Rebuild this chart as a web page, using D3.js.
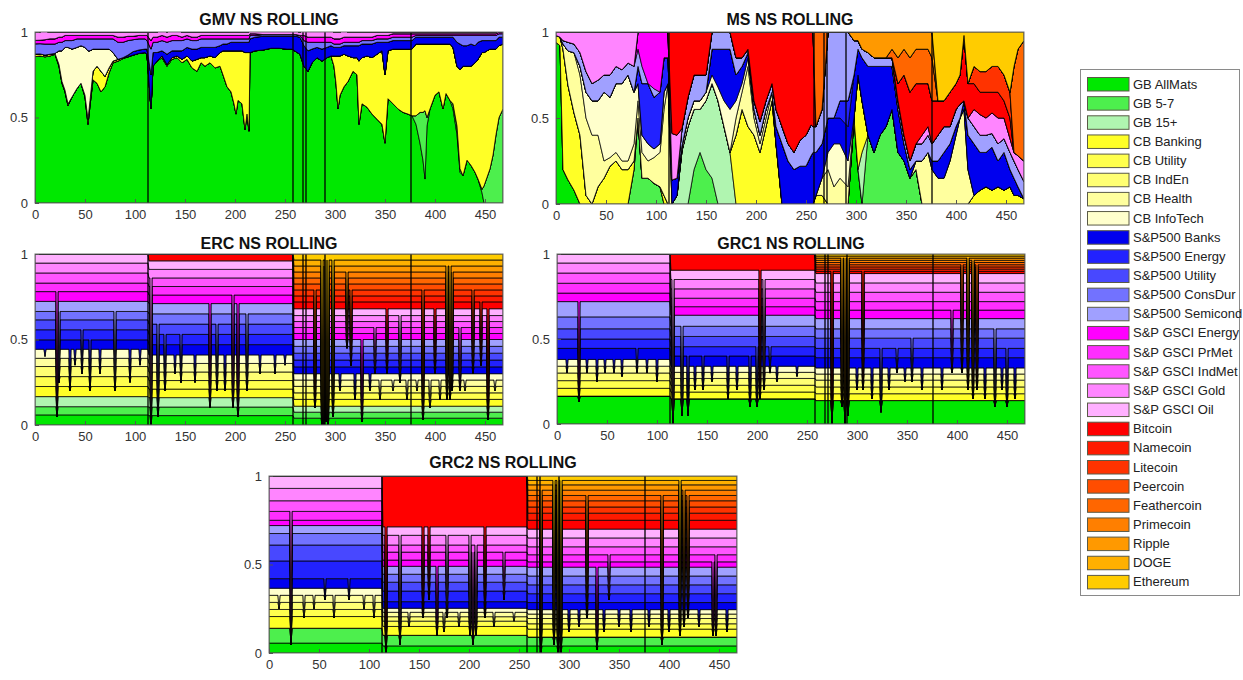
<!DOCTYPE html>
<html>
<head>
<meta charset="utf-8">
<script src="https://cdn.jsdelivr.net/npm/d3@7"></script>
<style>
  body { margin: 0; background: #fff; }
  text { font-family: "Liberation Sans", Arial, sans-serif; }
</style>
</head>
<body>
<svg id="chart" width="1243" height="680"></svg>
<script>
// series, in stacking / legend order
const names = ['GB AllMats', 'GB 5-7', 'GB 15+', 'CB Banking', 'CB Utility', 'CB IndEn', 'CB Health', 'CB InfoTech',
  'S&P500 Banks', 'S&P500 Energy', 'S&P500 Utility', 'S&P500 ConsDur', 'S&P500 Semicond',
  'S&P GSCI Energy', 'S&P GSCI PrMet', 'S&P GSCI IndMet', 'S&P GSCI Gold', 'S&P GSCI Oil',
  'Bitcoin', 'Namecoin', 'Litecoin', 'Peercoin', 'Feathercoin', 'Primecoin', 'Ripple', 'DOGE', 'Ethereum'];
const colors = ['#00e800', '#4def4d', '#b0f5b0', '#ffff26', '#ffff4d', '#ffff73', '#ffff9e', '#ffffcc',
  '#0000ee', '#2222ff', '#4848ff', '#7272ff', '#a0a0ff',
  '#ff00ff', '#ff2eff', '#ff55ff', '#ff85ff', '#ffb0ff',
  '#ff0000', '#ff1a00', '#ff3300', '#ff4d00', '#ff6600', '#ff7f00', '#ff9900', '#ffb000', '#ffcc00'];

const tMax = 468;
const xTicks = [0, 50, 100, 150, 200, 250, 300, 350, 400, 450];
const yTicks = [0, 0.5, 1];
// dates with missing rows (drawn as full-height black lines)
const gapTimes = [113, 258, 268, 271, 290, 376];

// ---------- GMV: weights read at these dates ----------
const gmvT = [0,5,10,15,20,24,27,30,33,37, 42,46,50,53,55,58,62,66,70,74, 78,83,88,93,98,104,110,112,116,118,
  122,127,132,137,142,147,152,157,162,166, 170,175,180,185,188,192,196,199,201,203, 207,210,212,214,215,220,228,236,244,252,
  257,261,265,269,273,277,282,287,292,296, 299,301,303,305,309,313,318,322,324,327, 332,337,342,347,350,353,358,363,368,373,
  377,381,385,388,390,392,395,400,404,408, 411,415,418,422,425,428,432,436,440,443, 447,449,452,455,458,461,464,468];
const gmvGbAll = [.856,.86,.855,.86,.87,.80,.70,.65,.57,.62, .67,.70,.62,.46,.57,.72,.70,.65,.68,.76,
  .82,.83,.845,.855,.865,.875,.88,.87,.55,.80, .83,.85,.80,.84,.85,.82,.84,.79,.77,.82,
  .80,.82,.79,.80,.75,.68,.65,.58,.52,.60, .58,.43,.52,.42,.88,.89,.895,.905,.905,.90,
  .90,.885,.87,.80,.77,.82,.85,.83,.85,.86, .80,.70,.55,.63,.68,.71,.77,.75,.46,.58,
  .56,.52,.49,.46,.35,.61,.58,.55,.53,.52, .51,.46,.35,.25,.14,.45,.55,.63,.65,.55,
  .64,.60,.55,.40,.18,.16,.25,.22,.18,.14, .06,0,0,0,0,0,0,0];
const gmvGb57 = [0,0,0,0,0,0,0,0,0,0, 0,0,0,0,0,0,0,0,0,0, 0,0,0,0,0,0,0,0,0,0, 0,0,0,0,0,0,0,0,0,0,
  0,0,0,0,0,0,0,0,0,0, 0,0,0,0,0,0,0,0,0,0, 0,0,0,0,0,0,0,0,0,0, 0,0,0,0,0,0,0,0,0,0,
  0,0,0,0,0,0,0,0,0,0, 0,.05,.18,.28,.40,.05,0,0,0,0, 0,0,.03,.05,.02,0,0,0,0,0, .02,.10,.15,.20,.28,.40,.50,.55];
const gmvCbBanking = [.015,.012,.01,.01,.005,.01,.01,.01,.01,0, 0,0,.01,.03,.03,.05,.10,.12,.06,.03,
  .01,.01,.005,0,0,0,0,0,0,0, 0,.01,.01,.01,.01,.02,.02,.04,.07,.03,
  .05,.04,.06,.08,.14,.21,.24,.31,.37,.29, .31,.45,.36,.46,0,0,0,0,0,0,
  0,0,0,0,0,0,0,0,0,0, .06,.16,.31,.23,.19,.15,.08,.10,.37,.27,
  .30,.33,.38,.43,.40,.28,.32,.35,.37,.38, .39,.42,.40,.40,.39,.43,.38,.30,.28,.38,
  .29,.33,.33,.35,.58,.64,.55,.58,.64,.70, .80,.78,.74,.70,.62,.50,.42,.38];
const gmvCbInfoTech = [0,0,0,0,0,.08,.18,.25,.33,.28, .24,.22,.28,.40,.29,.13,.10,.13,.16,.11,
  .05,0,0,0,0,0,0,0,0,0, 0,0,0,0,0,0,0,0,0,0, 0,0,0,0,0,0,0,0,0,0, 0,0,0,0,0,0,0,0,0,0,
  0,0,0,0,0,0,0,0,0,0, 0,0,0,0,0,0,0,0,0,0, 0,0,0,0,0,0,0,0,0,0, 0,0,0,0,0,0,0,0,0,0,
  0,0,0,0,0,0,0,0,0,0, 0,0,0,0,0,0,0,0];
const gmvSpBanks = [0,0,0,0,0,0,0,0,0,0, 0,0,0,0,0,0,0,0,0,0,
  0,0,0,.01,.02,.02,.02,.03,.20,.08, .05,.03,.06,.04,.03,.05,.05,.07,.06,.06,
  .06,.05,.06,.04,.04,.04,.05,.05,.05,.05, .05,.06,.06,.06,.08,.08,.08,.07,.07,.075,
  .075,.09,.10,.12,.12,.08,.06,.07,.06,.06, .05,.05,.05,.05,.05,.06,.07,.07,.09,.08,
  .07,.08,.07,.05,.19,.05,.05,.05,.05,.05, .05,.04,.04,.04,.04,.04,.04,.04,.04,.04,
  .04,.04,.06,.14,.15,.12,.12,.13,.10,.10, .07,.07,.06,.05,.05,.05,.05,.04];
const gmvSpConsDur = [.06,.06,.065,.06,.055,.05,.05,.04,.04,.05, .05,.04,.05,.07,.07,.06,.06,.06,.06,.06,
  .08,.10,.09,.085,.07,.065,.06,.05,.15,.06, .06,.06,.07,.06,.06,.06,.05,.05,.05,.05,
  .05,.05,.05,.04,.03,.03,.02,.02,.02,.02, .02,.02,.02,.02,.02,.01,.01,.01,.01,.01,
  .01,.01,.01,.03,.05,.04,.03,.04,.03,.02, .02,.02,.02,.02,.02,.02,.02,.02,.02,.02,
  .02,.02,.02,.02,.02,.02,.02,.02,.02,.02, .02,.01,.01,.01,.01,.01,.01,.01,.01,.01,
  .01,.01,.01,.04,.05,.06,.06,.05,.06,.04, .03,.03,.03,.03,.03,.03,.02,.02];
const gmvGsciEnergy = [.02,.02,.025,.03,.03,.03,.03,.03,.03,.03, .02,.02,.02,.02,.02,.02,.02,.02,.02,.02,
  .02,.03,.03,.025,.02,.02,.02,.03,.05,.03, .03,.03,.03,.03,.03,.02,.02,.02,.02,.02,
  .02,.02,.02,.02,.02,.02,.02,.02,.02,.02, .02,.02,.02,.02,.01,.01,0,0,0,0,
  0,0,0,.03,.03,.03,.03,.03,.03,.03, .03,.03,.03,.03,.03,.03,.03,.03,.03,.02,
  .02,.02,.02,.02,.02,.02,.02,.02,.02,.02, .02,.01,.01,.01,.01,.01,.01,.01,.01,.01,
  .01,.01,.01,.01,.01,.01,.01,.01,.01,.01, .01,.01,.01,.01,.01,.01,.01,.01];
const gmvGsciGold = [.05,.05,.05,.04,.04,.03,.03,.02,.02,.02, .02,.02,.02,.02,.02,.02,.02,.02,.02,.02,
  .02,.03,.03,.025,.025,.02,.02,.02,.05,.03, .03,.03,.03,.03,.03,.03,.02,.03,.03,.02,
  .02,.02,.02,.02,.02,.02,.02,.02,.02,.02, .02,.02,.02,.02,.02,.02,.02,.02,.02,.02,
  .02,.02,.02,.03,.04,.04,.04,.04,.04,.04, .04,.04,.04,.04,.04,.03,.03,.03,.03,.03,
  .03,.03,.02,.02,.02,.02,.01,.01,.01,.01, .01,.01,.01,.01,.01,.01,.01,.01,.01,.01,
  .01,.01,.01,.01,.01,.01,.01,.01,.01,.01, .01,.01,.01,.01,.01,.01,.01,.01];

// ---------- MS: weights read at these dates, [date, weight] where non-zero ----------
const msT = [0,4,7,12,18,24,30,36,42,48, 54,60,66,72,78,82,86,92,98,104, 108,112,116,121,126,132,138,144,150,156,
  162,168,174,180,186,192,198,204,210,216, 220,226,232,238,244,250,255,257,260,266, 272,278,284,292,298,302,306,312,318,324,
  330,336,342,348,354,360,366,372,376,382, 388,394,400,404,408,412,418,424,430,436, 442,448,454,458,462,468];
const msGbAll = [[0,.94],[4,.92],[7,.20],[12,.14],[18,.08],[298,.50],[302,.20]];
const msGb57 = [[78,.20],[82,.50],[86,.15],[92,.15],[98,.12],[104,.10],[138,.20],[144,.30],[150,.20],[156,.15],
  [312,.40],[318,.30],[324,.40],[330,.45],[336,.55],[342,.30],[348,.25],[354,.15],[360,.20]];
const msGb15 = [[121,.05],[126,.31],[132,.45],[138,.35],[144,.25],[150,.40],[156,.55],[162,.60],[168,.45],[174,.30],[306,.30]];
const msCbBanking = [[0,.04],[4,.05],[7,.70],[12,.55],[18,.45],[24,.40],[30,.05],[42,.10],[48,.15],[54,.22],[60,.25],[66,.20],
  [72,.20],[78,.05],[108,.05],[180,.40],[186,.55],[192,.45],[198,.40],[204,.30],[210,.45],[216,.60],[220,.35],[260,.05],
  [266,.05],[302,.55],[306,.30],[418,.05],[424,.08],[430,.10],[436,.08],[442,.10],[448,.08],[454,.10],[458,.05],[462,.05],[468,.03]];
const msCbHealth = [[7,.03],[12,.20],[18,.35],[24,.35],[30,.45],[36,.40],[42,.30],[48,.10],[54,.05],[60,.05],[66,.05],[72,.05],
  [78,.10],[82,.10],[86,.15],[92,.10],[98,.15],[104,.20],[108,.50],[112,.70],[180,.10],[186,.10],[192,.35],[198,.10],
  [204,.05],[210,.05],[216,.05],[266,.10],[272,.20],[278,.10],[284,.15],[292,.10],[360,.05],[366,.25],[372,.30],[376,.20],
  [382,.15],[388,.15],[394,.25],[400,.40],[404,.50],[408,.55],[412,.20]];
const msCbInfoTech = [[24,.05],[30,.15],[36,.20],[42,.20],[48,.40],[54,.35],[60,.40],[66,.45],[72,.50],[78,.30],[82,.10],
  [86,.10],[92,.10],[98,.05],[104,.05],[108,.10],[126,.03],[132,.05],[138,.05],[144,.05],[150,.05],[156,.05],[162,.08],
  [168,.15],[174,.25],[180,.10],[186,.05],[192,.05],[198,.05],[204,.05],[210,.05],[272,.10],[278,.25],[284,.20],[292,.15]];
const msSpBanks = [[116,.14],[121,.10],[156,.15],[162,.22],[168,.30],[174,.35],[180,.15],[186,.10],[192,.03],[220,.10],
  [226,.35],[232,.25],[238,.20],[244,.22],[250,.22],[255,.28],[257,.30],[260,.25],[266,.20],[272,.20],[278,.15],[284,.15],
  [292,.20],[298,.25],[302,.15],[306,.25],[312,.40],[318,.50],[324,.40],[330,.35],[336,.25],[342,.25],[348,.10],[354,.05],
  [376,.05],[382,.10],[388,.15],[394,.10],[400,.05],[408,.05],[412,.20],[418,.30],[424,.22],[430,.20],[436,.25],[442,.15],
  [448,.22],[454,.10],[458,.10],[462,.05]];
const msSpEnergy = [[82,.10],[86,.30],[92,.35],[98,.30],[104,.30],[108,.20],[112,.15],[284,.10],[292,.15]];
const msSpSemicond = [[7,.02],[12,.05],[18,.05],[24,.08],[30,.12],[36,.10],[42,.12],[48,.10],[54,.13],[60,.10],[66,.08],
  [72,.07],[78,.15],[82,.10],[86,.10],[98,.05],[126,.10],[132,.12],[138,.15],[144,.15],[150,.10],[156,.10],[162,.10],
  [168,.10],[174,.10],[180,.10],[186,.05],[192,.02],[198,.05],[204,.08],[210,.05],[216,.05],[220,.10],[226,.10],[232,.10],
  [238,.10],[244,.15],[250,.18],[255,.18],[257,.15],[260,.15],[266,.20],[272,.50],[278,.50],[284,.40],[292,.40],[298,.20],
  [302,.05],[306,.05],[312,.08],[318,.05],[324,.05],[330,.05],[336,.05],[342,.05],[348,.05],[354,.05],[360,.10],[366,.10],
  [372,.10],[376,.10],[382,.15],[388,.15],[394,.10],[400,.10],[404,.08],[412,.10],[418,.10],[424,.10],[430,.10],[436,.08],
  [442,.10],[448,.08],[454,.10],[458,.10],[462,.10],[468,.10]];
const msGsciEnergy = [[82,.10],[86,.20],[92,.30],[98,.33],[104,.35],[108,.15],[112,.15]];
const msGsciGold = [[0,.02],[4,.03],[7,.05],[12,.06],[18,.07],[24,.12],[30,.23],[36,.30],[42,.28],[48,.25],[54,.25],[60,.20],
  [66,.22],[72,.18],[78,.20],[116,.27],[121,.25],[366,.05],[372,.05],[418,.10],[424,.12],[430,.10],[436,.12],[442,.15],
  [448,.12],[454,.08],[458,.05],[462,.08],[468,.12]];
const msBitcoin = [[116,.59],[121,.60],[126,.56],[132,.38],[138,.25],[144,.25],[150,.25],[180,.15],[186,.15],[192,.10],
  [198,.40],[204,.52],[210,.40],[216,.30],[220,.45],[226,.55],[232,.65],[238,.70],[244,.63],[250,.60],[255,.54],[257,.55],
  [342,.10],[348,.35],[354,.40],[360,.35],[366,.30],[372,.25],[376,.25],[382,.20],[388,.15],[394,.20],[400,.15],[404,.17],
  [408,.38],[412,.20],[418,.15],[424,.13],[430,.15],[436,.12],[442,.15],[448,.10],[454,.12]];
const msLitecoin = [[418,.10],[424,.12],[430,.12],[436,.15],[442,.15],[448,.15],[454,.15]];
const msFeathercoin = [[260,.55],[266,.45],[336,.05],[342,.15],[348,.15],[354,.20],[360,.20],[366,.20],[372,.20],[376,.25],
  [458,.50],[462,.62],[468,.70]];
const msRipple = [[298,.05],[302,.05],[306,.10],[312,.12],[318,.15],[324,.15],[330,.15],[336,.10],[342,.15],[348,.10],
  [354,.15],[360,.10],[366,.10],[372,.10],[376,.15]];
const msEthereum = [[382,.40],[388,.40],[394,.35],[400,.30],[404,.25],[408,.02],[412,.30],[418,.20],[424,.23],[430,.23],
  [436,.20],[442,.20],[448,.25],[454,.35],[458,.20],[462,.10],[468,.05]];

// ---------- risk-parity portfolios: weights per period (before 113, 113-258, after 258) ----------
const ercWeights = [
  [.059,.048,.059, .059,.058,.059,.048,.053, .055,.059,.058,.049,.059, .057,.05,.059,.058,.053],
  [.055,.05,.055, .05,.05,.05,.05,.05, .06,.06,.06,.06,.06, .05,.05,.05,.05,.05, .04],
  [.04,.035,.035, .04,.038,.038,.037,.037, .04,.04,.04,.04,.04, .035,.035,.035,.035,.04,
   .04,.035,.035,.035,.035,.035,.035,.035,.035]];
const grc1Weights = [
  [.164,0,0, .046,.045,.045,.04,.04, .065,.055,.06,.07,.09, .05,.058,.06,.059,.053],
  [.148,0,0, .04,.04,.04,.036,.036, .06,.055,.06,.06,.065, .05,.05,.055,.055,.055, .095],
  [.138,0,0, .04,.04,.04,.036,.036, .06,.055,.06,.055,.06, .05,.05,.055,.055,.055,
   .013,.013,.013,.013,.013,.013,.013,.012,.012]];
const grc2Weights = [
  [.056,.084,0, .066,.04,.04,.04,.04, .054,.1,.09,.065,.045, .03,.05,.06,.07,.07],
  [.04,.06,0, .05,.03,.025,.025,.023, .037,.06,.05,.045,.045, .035,.045,.04,.055,.048, .287],
  [.04,.05,0, .045,.03,.03,.025,.025, .04,.05,.05,.05,.05, .03,.04,.045,.05,.05,
   .05,.04,.035,.035,.03,.03,.03,.025,.025]];
// one-date shocks: [date, low, high] -> stack edges between low and high collapse to low
const ercSpikes = [[22,.05,.80],[24,.25,.70],[35,.20,.45],[47,.30,.60],[55,.20,.50],[80,.20,.70],[116,0,.90],[123,.05,.60],
  [130,.20,.55],[146,.25,.55],[175,.10,.75],[182,.20,.60],[198,.10,.80],[203,.05,.75],[212,.20,.70],[280,.10,.80],
  [287,0,.98],[289,0,.95],[291,.02,.98],[293,0,.98],[298,.05,.98],[312,.45,.90],[316,.35,.80],[327,.02,.50],[340,.30,.60],
  [352,.30,.70],[365,.25,.65],[388,.03,.80],[400,.30,.70],[412,.15,.95],[415,.15,.95],[417,.20,.90],[425,.20,.60],
  [438,.30,.80],[446,.35,.75],[453,.03,.70],
  [10,.40,.45],[40,.35,.45],[65,.30,.45],[95,.25,.45],[105,.35,.45],[140,.30,.42],[160,.25,.42],[190,.20,.42],
  [225,.30,.42],[240,.30,.42],[250,.35,.42],[305,.20,.32],[320,.15,.32],[335,.20,.32],[345,.15,.30],[358,.20,.30],
  [372,.15,.30],[382,.20,.30],[395,.10,.30],[405,.15,.30],[430,.20,.30],[460,.20,.30]];
const grc1Spikes = [[22,.13,.75],[30,.30,.40],[57,.30,.40],[80,.30,.45],[116,0,.90],[125,.05,.60],[131,.05,.45],[146,.20,.40],
  [171,.15,.45],[193,.10,.40],[200,.10,.50],[203,.15,.93],[207,.20,.90],[213,.30,.50],[275,0,.90],[285,.10,.98],[288,0,.98],
  [291,.05,.98],[306,.20,.90],[324,.07,.50],[340,.30,.50],[355,.25,.55],[395,.30,.70],[405,.30,.95],[411,.20,.98],
  [416,.15,.97],[420,.20,.95],[438,.10,.60],[450,.10,.50],
  [10,.30,.38],[40,.25,.38],[48,.30,.38],[65,.28,.38],[90,.30,.38],[100,.25,.38],[138,.20,.34],[155,.25,.34],
  [180,.20,.34],[220,.25,.34],[240,.28,.34],[300,.20,.33],[315,.15,.33],[332,.20,.33],[348,.25,.33],[365,.20,.33],
  [385,.20,.33],[428,.15,.33],[445,.20,.33],[458,.15,.33]];
const grc2Spikes = [[22,.05,.82],[56,.30,.50],[80,.30,.50],[117,0,.95],[131,.05,.70],[154,.20,.75],[160,.30,.75],[168,.10,.50],
  [178,.20,.70],[201,.10,.70],[204,.05,.60],[207,.10,.65],[216,.20,.80],[235,.30,.60],[272,0,.95],[285,.05,.98],[289,0,.98],
  [292,0,.98],[318,.20,.90],[328,.02,.50],[340,.30,.60],[393,.05,.90],[411,.10,.98],[415,.15,.95],[419,.20,.90],
  [444,.10,.55],[447,.10,.60],
  [10,.25,.36],[35,.20,.36],[45,.25,.36],[65,.20,.36],[95,.25,.36],[105,.20,.36],[140,.15,.25],[175,.12,.25],
  [190,.15,.25],[225,.15,.25],[245,.18,.25],[300,.12,.25],[310,.15,.25],[335,.12,.25],[350,.15,.25],[362,.12,.25],
  [380,.15,.25],[400,.12,.25],[430,.15,.25],[458,.12,.25]];

// ---------- build rows ----------
const nSeries = names.length;
const gmvCols = [[0, gmvGbAll], [1, gmvGb57], [3, gmvCbBanking], [7, gmvCbInfoTech], [8, gmvSpBanks],
  [11, gmvSpConsDur], [13, gmvGsciEnergy], [16, gmvGsciGold]];
const gmvRows = gmvT.map((t, i) => {
  const v = new Array(nSeries).fill(0);
  gmvCols.forEach(([k, arr]) => { v[k] = arr[i]; });
  return { t, v };
});

const msCols = [[0, msGbAll], [1, msGb57], [2, msGb15], [3, msCbBanking], [6, msCbHealth], [7, msCbInfoTech],
  [8, msSpBanks], [9, msSpEnergy], [12, msSpSemicond], [13, msGsciEnergy], [16, msGsciGold], [18, msBitcoin],
  [20, msLitecoin], [22, msFeathercoin], [24, msRipple], [26, msEthereum]].map(([k, pairs]) => [k, new Map(pairs)]);
const msRows = msT.map(t => {
  const v = new Array(nSeries).fill(0);
  msCols.forEach(([k, m]) => { v[k] = m.get(t) || 0; });
  return { t, v };
});

const periodOf = t => (t <= gapTimes[0] ? 0 : t <= gapTimes[1] ? 1 : 2);
const squeeze = (w, lo, hi) => {
  let c = 0, prev = 0;
  return w.map(val => {
    c += val;
    const cc = (c > lo && c < hi) ? lo : c;
    const out = cc - prev;
    prev = cc;
    return out;
  });
};
const regimeRows = (weights, spikes) => {
  const full = weights.map(w => names.map((_, k) => w[k] || 0));
  const byT = new Map();
  [0, gapTimes[0], gapTimes[0] + 1, gapTimes[1], gapTimes[1] + 1, tMax]
    .forEach(t => byT.set(t, full[periodOf(t)]));
  const spikeT = new Set(spikes.map(s => s[0]));
  spikes.forEach(([t]) => [t - 1, t + 1].forEach(s => {
    if (!spikeT.has(s)) byT.set(s, full[periodOf(s)]);
  }));
  spikes.forEach(([t, lo, hi]) => byT.set(t, squeeze(full[periodOf(t)], lo, hi)));
  return Array.from(byT, ([t, v]) => ({ t, v })).sort((a, b) => a.t - b.t);
};

const panels = [
  { id: 'gmv', title: 'GMV NS ROLLING', left: 35, top: 32, width: 468, height: 171, titleY: 25, rows: gmvRows },
  { id: 'ms', title: 'MS NS ROLLING', left: 556, top: 32, width: 468, height: 172, titleY: 25, rows: msRows },
  { id: 'erc', title: 'ERC NS ROLLING', left: 35, top: 254, width: 468, height: 171, titleY: 249, rows: regimeRows(ercWeights, ercSpikes) },
  { id: 'grc1', title: 'GRC1 NS ROLLING', left: 557, top: 254, width: 468, height: 170, titleY: 249, rows: regimeRows(grc1Weights, grc1Spikes) },
  { id: 'grc2', title: 'GRC2 NS ROLLING', left: 269, top: 476, width: 468, height: 177, titleY: 468, rows: regimeRows(grc2Weights, grc2Spikes) }
];

const svg = d3.select('#chart');
const defs = svg.append('defs');
const stack = d3.stack().keys(d3.range(nSeries)).value((d, k) => d.v[k] || 0);

panels.forEach(p => {
  const x = d3.scaleLinear().domain([0, tMax]).range([p.left, p.left + p.width]);
  const y = d3.scaleLinear().domain([0, 1]).range([p.top + p.height, p.top]);

  defs.append('clipPath').attr('id', `clip-${p.id}`)
    .append('rect').attr('x', p.left).attr('y', p.top).attr('width', p.width).attr('height', p.height);

  const g = svg.append('g').attr('clip-path', `url(#clip-${p.id})`);
  const area = d3.area().x(d => x(d.data.t)).y0(d => y(d[0])).y1(d => y(d[1]));
  g.selectAll('path.band')
    .data(stack(p.rows))
    .join('path')
    .attr('class', 'band')
    .attr('d', area)
    .attr('fill', (d, i) => colors[i])
    .attr('stroke', '#000')
    .attr('stroke-width', 0.75)
    .attr('stroke-linejoin', 'round');

  g.selectAll('line.gap')
    .data(gapTimes)
    .join('line')
    .attr('class', 'gap')
    .attr('x1', d => x(d)).attr('x2', d => x(d))
    .attr('y1', y(0)).attr('y2', y(1))
    .attr('stroke', '#000')
    .attr('stroke-width', 1.3);

  // axes box, MATLAB style
  svg.append('rect')
    .attr('x', p.left).attr('y', p.top).attr('width', p.width).attr('height', p.height)
    .attr('fill', 'none').attr('stroke', '#6e6e6e').attr('stroke-width', 1);

  const xAxis = svg.append('g')
    .attr('transform', `translate(0,${p.top + p.height})`)
    .call(d3.axisBottom(x).tickValues(xTicks).tickSize(-4).tickPadding(7));
  const yAxis = svg.append('g')
    .attr('transform', `translate(${p.left},0)`)
    .call(d3.axisLeft(y).tickValues(yTicks).tickSize(-4).tickPadding(7).tickFormat(d => String(d)));
  [xAxis, yAxis].forEach(a => {
    a.select('.domain').remove();
    a.selectAll('line').attr('stroke', '#555');
    a.selectAll('text')
      .attr('fill', '#333')
      .style('font-size', '13px')
      .style('font-family', '"Liberation Sans", Arial, sans-serif');
  });

  svg.append('text')
    .attr('x', p.left + p.width / 2)
    .attr('y', p.titleY)
    .attr('text-anchor', 'middle')
    .style('font-size', '16px')
    .style('font-weight', 'bold')
    .attr('fill', '#111')
    .text(p.title);
});

// legend
const legend = svg.append('g');
legend.append('rect')
  .attr('x', 1080.5).attr('y', 69.5).attr('width', 159).attr('height', 526)
  .attr('fill', '#fff').attr('stroke', '#8a8a8a').attr('stroke-width', 1);
const item = legend.selectAll('g.item')
  .data(names)
  .join('g')
  .attr('class', 'item')
  .attr('transform', (d, i) => `translate(0,${84 + i * 19.15})`);
item.append('rect')
  .attr('x', 1087.5).attr('y', -6.5).attr('width', 41.5).attr('height', 13.5)
  .attr('fill', (d, i) => colors[i])
  .attr('stroke', '#5a5a46').attr('stroke-width', 1);
item.append('text')
  .attr('x', 1133).attr('y', 4.5)
  .attr('fill', '#222')
  .style('font-size', '13px')
  .text(d => d);
</script>
</body>
</html>
